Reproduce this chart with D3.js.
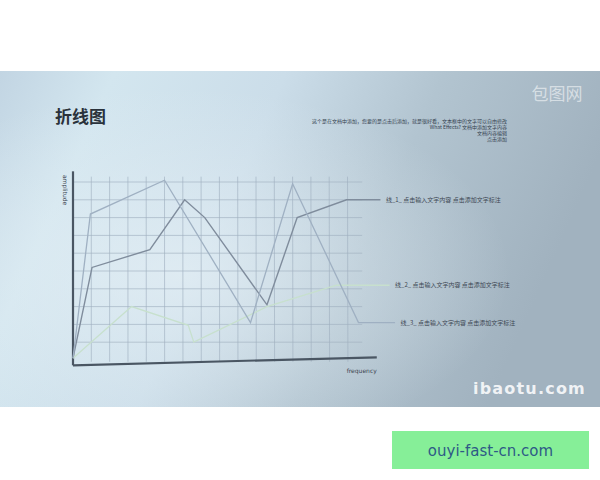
<!DOCTYPE html>
<html>
<head>
<meta charset="utf-8">
<script src="https://cdn.jsdelivr.net/npm/d3@7"></script>
<style>
  html, body { margin: 0; padding: 0; background: #ffffff; }
  svg { display: block; }
</style>
</head>
<body>
<svg id="chart" width="600" height="480"></svg>
<script>
// ---------- data ----------
const title = "折线图";
const xTicks = d3.range(1, 16);          // vertical grid columns
const yTicks = d3.range(1, 11);          // horizontal grid rows
const seriesNames = ["线_1_ 点击输入文字内容 点击添加文字标注",
                     "线_2_ 点击输入文字内容 点击添加文字标注",
                     "线_3_ 点击输入文字内容 点击添加文字标注"];
// x positions (frequency) and values (amplitude) of each series
const series1X = [0, 1.04, 4.2, 6.1, 7.2, 10.6, 12.25, 14.95, 16.8];
const series1Y = [0.1, 5.2, 6.2, 9.0, 8.0, 3.1, 8.0, 9.0, 9.0];
const series2X = [0, 3.2, 6.3, 6.6, 10.6, 14.4, 17.3];
const series2Y = [0.1, 3.0, 1.95, 1.0, 3.0, 4.2, 4.2];
const series3X = [0, 0.95, 5.0, 9.7, 12.0, 15.6, 17.6];
const series3Y = [0.1, 8.2, 10.1, 2.1, 9.9, 2.1, 2.1];
const infoLines = [
  "这个是在文档中添加，您要的是点击后添加，就是很好看，文本框中的文字可以自由修改",
  "What Effects? 文档中添加文字内容",
  "文档内容编辑",
  "点击添加"
];

// ---------- drawing ----------
const svg = d3.select("#chart");
const defs = svg.append("defs");

const lg = defs.append("linearGradient").attr("id", "bg").attr("x1", "0").attr("y1", "0").attr("x2", "1").attr("y2", "0.25");
lg.append("stop").attr("offset", "0").attr("stop-color", "#c2d5e3");
lg.append("stop").attr("offset", "0.18").attr("stop-color", "#d3e6ef");
lg.append("stop").attr("offset", "0.45").attr("stop-color", "#cbdde9");
lg.append("stop").attr("offset", "0.7").attr("stop-color", "#b2c4d0");
lg.append("stop").attr("offset", "1").attr("stop-color", "#a1b2bf");

const rg = defs.append("radialGradient").attr("id", "glow").attr("cx", "0.3").attr("cy", "0.6").attr("r", "0.55");
rg.append("stop").attr("offset", "0").attr("stop-color", "#e4eff5").attr("stop-opacity", 0.75);
rg.append("stop").attr("offset", "1").attr("stop-color", "#e4eff5").attr("stop-opacity", 0);

svg.append("rect").attr("x", 0).attr("y", 71).attr("width", 600).attr("height", 336).attr("fill", "url(#bg)");
svg.append("rect").attr("x", 0).attr("y", 71).attr("width", 600).attr("height", 336).attr("fill", "url(#glow)");

const x = d3.scaleLinear().domain([0, 15]).range([73, 347.5]);
const y = d3.scaleLinear().domain([0, 10]).range([360, 182]);

// grid
const grid = svg.append("g").attr("stroke", "#9fb0c0").attr("stroke-opacity", 0.7).attr("stroke-width", 0.9);
grid.selectAll(".v").data(xTicks).join("line")
  .attr("x1", d => x(d)).attr("x2", d => x(d) + 0.4 * (d / 15))
  .attr("y1", y(10.3)).attr("y2", y(-0.1));
grid.selectAll(".h").data(yTicks).join("line")
  .attr("x1", x(0)).attr("x2", x(15.8))
  .attr("y1", d => y(d)).attr("y2", d => y(d));

// axes
const axes = svg.append("g").attr("stroke", "#4a5663").attr("stroke-width", 2.2).attr("fill", "none");
axes.append("line").attr("x1", x(0)).attr("x2", x(0)).attr("y1", y(10.6)).attr("y2", y(-0.3));
axes.append("line").attr("x1", x(0)).attr("x2", x(16.6)).attr("y1", y(-0.3)).attr("y2", y(0.15));

svg.append("text").attr("transform", `translate(${x(-0.55)},${y(10.4)}) rotate(90)`)
  .attr("font-family", "DejaVu Sans").attr("font-size", 6).attr("fill", "#3d4652").text("amplitude");
svg.append("text").attr("x", x(16.6)).attr("y", y(-0.75)).attr("text-anchor", "end")
  .attr("font-family", "DejaVu Sans").attr("font-size", 6).attr("fill", "#3d4652").text("frequency");

// series
const line = d3.line().x(d => x(d[0])).y(d => y(d[1]));
const allSeries = [
  { xs: series1X, ys: series1Y, color: "#7f8c9c", width: 1.4 },
  { xs: series2X, ys: series2Y, color: "#c7e0cd", width: 1.3 },
  { xs: series3X, ys: series3Y, color: "#9fb0c2", width: 1.3 }
];
allSeries.forEach((s, i) => {
  const pts = s.xs.map((v, j) => [v, s.ys[j]]);
  svg.append("path").attr("d", line(pts)).attr("fill", "none")
    .attr("stroke", s.color).attr("stroke-width", s.width).attr("stroke-linejoin", "miter");
  const last = pts[pts.length - 1];
  svg.append("text").attr("x", x(last[0] + 0.3)).attr("y", y(last[1]) + 2)
    .attr("font-family", "Noto Sans CJK SC").attr("font-size", 6).attr("fill", "#3c4652")
    .text(seriesNames[i]);
});

// title
svg.append("text").attr("x", 55).attr("y", 123).attr("font-family", "Noto Sans CJK SC")
  .attr("font-weight", "bold").attr("font-size", 17).attr("fill", "#2a323b").text(title);

// info text top right
svg.append("g").selectAll("text").data(infoLines).join("text")
  .attr("x", 507).attr("y", (d, i) => 123 + i * 6).attr("text-anchor", "end")
  .attr("font-family", "Noto Sans CJK SC").attr("font-size", 5).attr("fill", "#33404e")
  .text(d => d);

// logo
svg.append("text").attr("x", 557).attr("y", 100).attr("text-anchor", "middle")
  .attr("font-family", "Noto Sans CJK SC").attr("font-size", 17).attr("fill", "#ffffff").attr("fill-opacity", 0.55)
  .text("包图网");

// watermark
svg.append("text").attr("x", 586).attr("y", 394).attr("text-anchor", "end")
  .attr("font-family", "DejaVu Sans").attr("font-weight", "bold").attr("font-size", 16)
  .attr("letter-spacing", 1.2).attr("fill", "#ffffff").attr("fill-opacity", 0.85).text("ibaotu.com");

// green badge
svg.append("rect").attr("x", 392).attr("y", 431).attr("width", 197).attr("height", 38).attr("fill", "#86ef98");
svg.append("text").attr("x", 490.5).attr("y", 456).attr("text-anchor", "middle")
  .attr("font-family", "DejaVu Sans").attr("font-size", 15).attr("fill", "#2e5a86").text("ouyi-fast-cn.com");
</script>
</body>
</html>
